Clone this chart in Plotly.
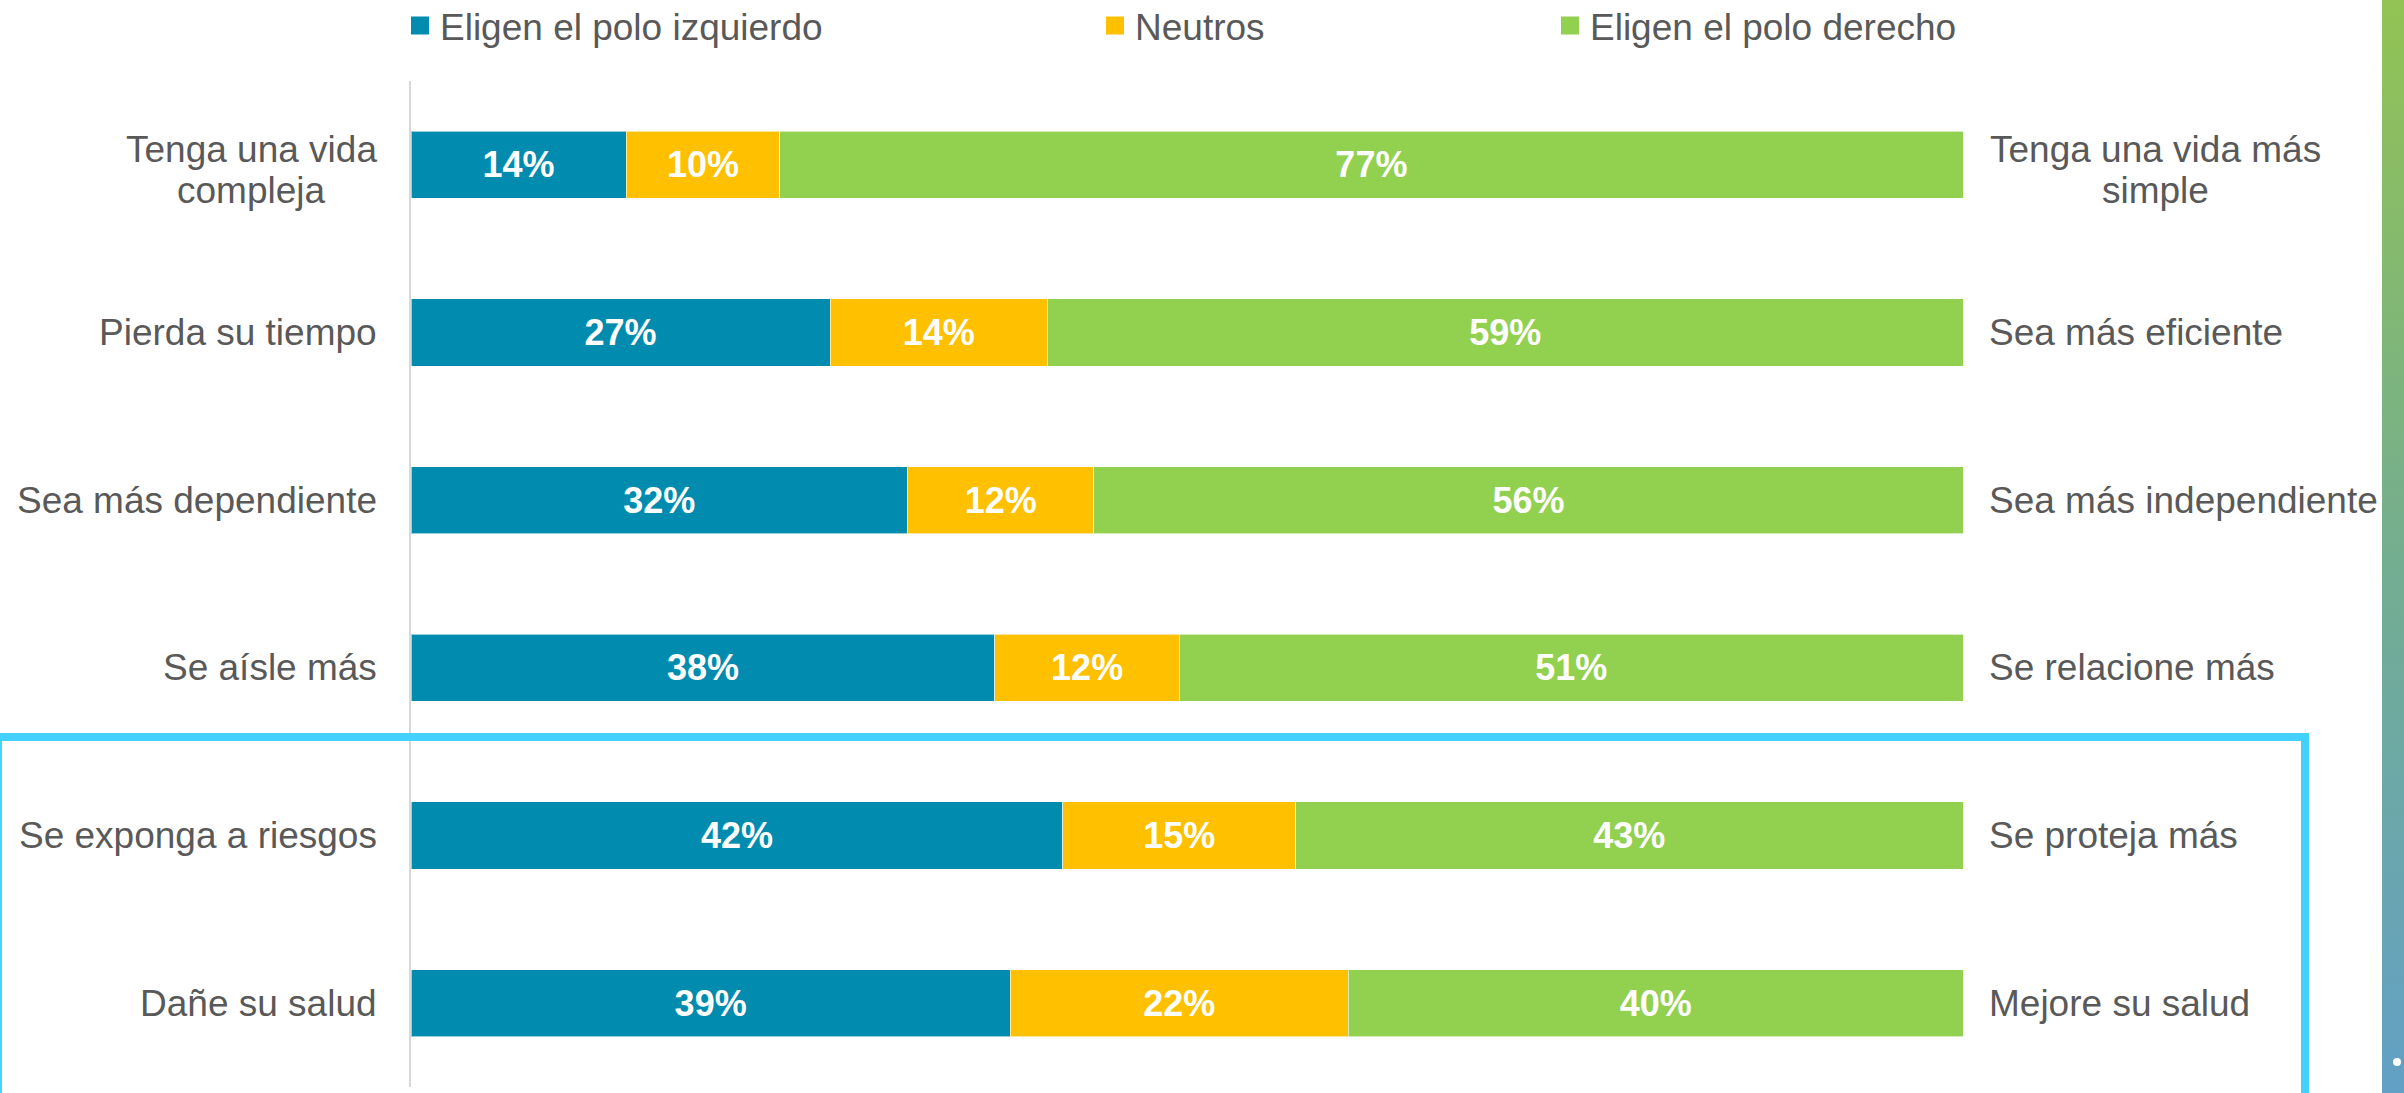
import base64
import plotly.graph_objects as go

# ---------------- data ----------------
left_labels = ["Tenga una vida<br>compleja", "Pierda su tiempo", "Sea más dependiente",
               "Se aísle más", "Se exponga a riesgos", "Dañe su salud"]
right_labels = ["Tenga una vida más<br>simple", "Sea más eficiente", "Sea más independiente",
                "Se relacione más", "Se proteja más", "Mejore su salud"]
categories = ["c1", "c2", "c3", "c4", "c5", "c6"]
izquierdo = [14, 27, 32, 38, 42, 39]
neutros = [10, 14, 12, 12, 15, 22]
derecho = [77, 59, 56, 51, 43, 40]
series_names = ["Eligen el polo izquierdo", "Neutros", "Eligen el polo derecho"]

# ---------------- layout constants ----------------
W, H = 2404, 1093
L, R, T, B = 411, 441, 81, 6
PW, PH = W - L - R, H - T - B
FONT = "Arial, Liberation Sans, sans-serif"
GREY = "#595959"
colors = ["#008BAF", "#FFC000", "#92D050"]
LEFT_BLOCK_CENTER = 251     # px, centre of wrapped left labels
RIGHT_BLOCK_CENTER = 2155   # px, centre of wrapped right labels
LINE_SHIFTS = [15, -26]     # px, vertical offsets of wrapped lines


def px_x(p):
    return (p - L) / PW


def px_y(p):
    return (H - B - p) / PH


fig = go.Figure()
legends = ["legend", "legend2", "legend3"]
for name, vals, col, lg in zip(series_names, [izquierdo, neutros, derecho], colors, legends):
    fig.add_trace(go.Bar(
        y=categories, x=vals, name=name, orientation="h",
        marker=dict(color=col, line=dict(color="rgba(255,255,255,0.6)", width=1)),
        text=vals, texttemplate="%{text}%", textposition="inside",
        insidetextanchor="middle", constraintext="none",
        textfont=dict(color="white", size=36, family=FONT, weight="bold"),
        showlegend=False, hoverinfo="skip",
    ))
    # legend entry with a larger square swatch
    fig.add_trace(go.Scatter(
        x=[None], y=[None], mode="markers", name=name,
        marker=dict(symbol="square", size=16, color=col, line=dict(width=2, color=col)),
        legend=lg, hoverinfo="skip", showlegend=True,
    ))


def label_annotations(text, cat, side):
    lines = text.split("<br>")
    font = dict(size=37, color=GREY, family=FONT)
    if len(lines) == 1:
        if side == "left":
            return [dict(x=0, xref="paper", xanchor="right", xshift=-32, y=cat, yref="y",
                         text=text, showarrow=False, font=font)]
        return [dict(x=1, xref="paper", xanchor="left", xshift=24, y=cat, yref="y",
                     text=text, showarrow=False, font=font)]
    cx = LEFT_BLOCK_CENTER if side == "left" else RIGHT_BLOCK_CENTER
    return [dict(x=px_x(cx), xref="paper", xanchor="center", y=cat, yref="y",
                 yshift=LINE_SHIFTS[i], text=ln, showarrow=False, font=font)
            for i, ln in enumerate(lines)]


annotations = []
for cat, lt, rt in zip(categories, left_labels, right_labels):
    annotations += label_annotations(lt, cat, "left")
    annotations += label_annotations(rt, cat, "right")

# gradient strip at the right edge
svg = ('<svg xmlns="http://www.w3.org/2000/svg" width="10" height="100" preserveAspectRatio="none">'
       '<defs><linearGradient id="g" x1="0" y1="0" x2="0" y2="1">'
       '<stop offset="0" stop-color="#92C353"/><stop offset="0.5" stop-color="#74AE8F"/>'
       '<stop offset="1" stop-color="#62A0C6"/></linearGradient></defs>'
       '<rect width="10" height="100" fill="url(#g)"/></svg>')
svg_uri = "data:image/svg+xml;base64," + base64.b64encode(svg.encode()).decode()

shapes = [
    dict(type="rect", xref="paper", yref="paper", x0=px_x(-2), x1=px_x(2305), y0=px_y(737), y1=px_y(1110),
         line=dict(color="#45D1FF", width=8), fillcolor="rgba(0,0,0,0)", layer="above"),
    dict(type="circle", xref="paper", yref="paper", x0=px_x(2393), x1=px_x(2401), y0=px_y(1058), y1=px_y(1066),
         line=dict(width=0), fillcolor="white", layer="above"),
]

leg_common = dict(orientation="h", yref="container", xref="container", yanchor="middle",
                  y=1 - 26 / H, xanchor="left",
                  font=dict(size=37, color=GREY, family=FONT), bgcolor="rgba(0,0,0,0)",
                  borderwidth=0, tracegroupgap=0)
fig.update_layout(
    width=W, height=H, margin=dict(l=L, r=R, t=T, b=B, autoexpand=False),
    paper_bgcolor="white", plot_bgcolor="white",
    barmode="stack", barnorm="percent", bargap=0.6,
    showlegend=True,
    legend=dict(x=400 / W, **leg_common),
    legend2=dict(x=1095 / W, **leg_common),
    legend3=dict(x=1550 / W, **leg_common),
    xaxis=dict(range=[0, 100], showgrid=False, zeroline=False, showticklabels=False,
               showline=False, ticks=""),
    yaxis=dict(autorange="reversed", showgrid=False, zeroline=False, showticklabels=False,
               showline=True, linecolor="#D9D9D9", linewidth=2, ticks=""),
    annotations=annotations,
    shapes=shapes,
    images=[dict(source=svg_uri, xref="paper", yref="paper", x=px_x(2382), y=px_y(0),
                 sizex=px_x(2404) - px_x(2382), sizey=px_y(0) - px_y(1093),
                 xanchor="left", yanchor="top", sizing="stretch", layer="above")],
    font=dict(family=FONT, color=GREY),
)

fig.write_html("out.html", config={"displayModeBar": False},
               post_script="document.body.style.margin='0';document.body.style.overflow='hidden';")
